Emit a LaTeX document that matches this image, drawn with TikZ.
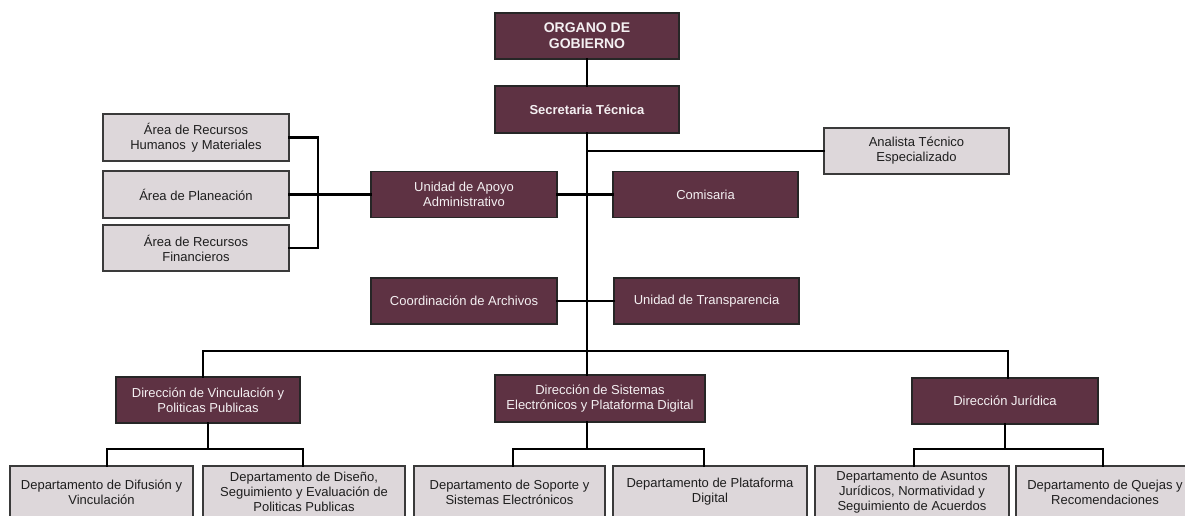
\documentclass[tikz,border=0pt]{standalone}
\usepackage{fontspec}
\setmainfont{Liberation Sans}
\definecolor{dkfill}{HTML}{5E3243}
\definecolor{ltfill}{HTML}{DDD7DA}
\definecolor{ltdraw}{HTML}{3A3A3A}
\definecolor{txtdk}{HTML}{1E1E1E}
\definecolor{txtlt}{HTML}{F4F0F2}
\tikzset{
  basebox/.style={rectangle, inner sep=0pt, align=center, line width=1.2pt,
    font=\fontsize{13}{15}\selectfont},
  dk/.style={basebox, fill=dkfill, draw=black!85, text=txtlt},
  lt/.style={basebox, fill=ltfill, draw=ltdraw, text=txtdk},
  conn/.style={line width=2.7pt, draw=black, line join=miter, line cap=rect},
}
\begin{document}
\begin{tikzpicture}[x=1pt,y=-1pt]
\useasboundingbox (0,0) rectangle (1185,516);
\fill[white] (0,0) rectangle (1185,516);
\clip (0,0) rectangle (1185,516);

% boxes
\node[dk, minimum width=184, minimum height=46, font=\bfseries\fontsize{14}{16}\selectfont] (organo) at (587,36) {ORGANO DE\\GOBIERNO};
\node[dk, minimum width=184, minimum height=47, font=\bfseries\fontsize{13}{15}\selectfont] (secre) at (587,109.5) {Secretaria Técnica};
\node[lt, minimum width=185, minimum height=46] (analista) at (916.5,151) {Analista Técnico\\Especializado};
\node[dk, minimum width=186, minimum height=46] (unidad) at (464,194.5) {Unidad de Apoyo\\Administrativo};
\node[dk, minimum width=185, minimum height=46] (comisaria) at (705.5,194.5) {Comisaria};
\node[lt, minimum width=186, minimum height=47] (arh) at (196,137.5) {Área de Recursos\\Humanos\ \,y Materiales};
\node[lt, minimum width=186, minimum height=47] (apl) at (196,194.5) {Área de Planeación};
\node[lt, minimum width=186, minimum height=46] (arf) at (196,248) {Área de Recursos\\Financieros};
\node[dk, minimum width=186, minimum height=46] (coord) at (464,301) {Coordinación de Archivos};
\node[dk, minimum width=185, minimum height=46] (transp) at (706.5,301) {Unidad de Transparencia};
\node[dk, minimum width=184, minimum height=46] (dvinc) at (208,400) {Dirección de Vinculación y\\Politicas Publicas};
\node[dk, minimum width=210, minimum height=47] (dsist) at (600,398.5) {Dirección de Sistemas\\Electrónicos y Plataforma Digital};
\node[dk, minimum width=186, minimum height=46] (djur) at (1005,401) {Dirección Jurídica};
\node[lt, minimum width=183, minimum height=52] (difus) at (101.5,492) {Departamento de Difusión y\\Vinculación};
\node[lt, minimum width=202, minimum height=52] (diseno) at (304,492) {Departamento de Diseño,\\Seguimiento y Evaluación de\\Politicas Publicas};
\node[lt, minimum width=191, minimum height=52] (soporte) at (509.5,492) {Departamento de Soporte y\\Sistemas Electrónicos};
\node[lt, minimum width=194, minimum height=52] (plataforma) at (710,492) {Departamento de Plataforma\\Digital};
\node[lt, minimum width=194, minimum height=52] (asuntos) at (912,492) {Departamento de Asuntos\\Jurídicos, Normatividad y\\Seguimiento de Acuerdos};
\node[lt, minimum width=178, minimum height=52] (quejas) at (1105,492) {Departamento de Quejas y\\Recomendaciones};

% helper coordinates
\coordinate (bk) at (318,137.5);
\coordinate (hl) at (203,351);
\coordinate (hr) at (1008,351);
\coordinate (v1) at (107,449);
\coordinate (v2) at (303,449);
\coordinate (v3) at (513,449);
\coordinate (v4) at (704,449);
\coordinate (v5) at (914,449);
\coordinate (v6) at (1103,449);

% connectors
\draw[conn] (organo.south) -- (secre.north);
\draw[conn] (secre.south) -- (secre.south |- dsist.north);
\draw[conn] (analista.west) -- (analista.west -| secre.south);
\draw[conn] (unidad.east) -- (comisaria.west);
\draw[conn] (coord.east) -- (transp.west);
\draw[conn] (hl |- dvinc.north) -- (hl) -- (hr) -- (hr |- djur.north);
\draw[conn] (arh.east) -- (bk) -- (bk |- arf.east) -- (arf.east);
\draw[conn] (apl.east) -- (unidad.west);
\draw[conn] (dvinc.south) -- (dvinc.south |- v1);
\draw[conn] (v1 |- difus.north) -- (v1) -- (v2) -- (v2 |- diseno.north);
\draw[conn] (secre.south |- dsist.south) -- (secre.south |- v3);
\draw[conn] (v3 |- soporte.north) -- (v3) -- (v4) -- (v4 |- plataforma.north);
\draw[conn] (djur.south) -- (djur.south |- v5);
\draw[conn] (v5 |- asuntos.north) -- (v5) -- (v6) -- (v6 |- quejas.north);
\end{tikzpicture}
\end{document}
